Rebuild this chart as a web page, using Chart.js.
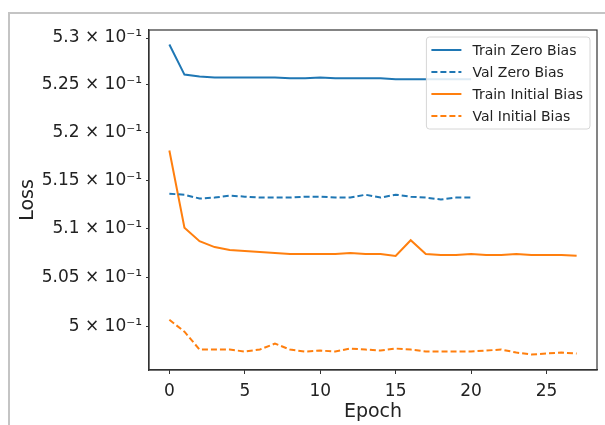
<!DOCTYPE html>
<html>
<head>
<meta charset="utf-8">
<script src="https://cdn.jsdelivr.net/npm/chart.js@4"></script>
<style>
  html, body { margin: 0; padding: 0; background: #fff; overflow: hidden; }
  #wrap { position: relative; width: 605px; height: 425px; }
  #frame { position: absolute; left: 8px; top: 12px; width: 620px; height: 440px;
           border-left: 2px solid #c4c4c4; border-top: 2px solid #c4c4c4; }
  canvas { position: absolute; left: 0; top: 0; }
</style>
</head>
<body>
<div id="wrap">
  <div id="frame"></div>
  <canvas id="lossChart" width="605" height="425"></canvas>
</div>
<script>
// values (loss per epoch)
const trainZeroBias = [0.5293, 0.5261, 0.5259, 0.5258, 0.5258, 0.5258, 0.5258, 0.5258, 0.5257, 0.5257,
  0.5258, 0.5257, 0.5257, 0.5257, 0.5257, 0.5256, 0.5256, 0.5256, 0.5256, 0.5256, 0.5256];
const valZeroBias = [0.5136, 0.5135, 0.5131, 0.5132, 0.5134, 0.5133, 0.5132, 0.5132, 0.5132, 0.5133,
  0.5133, 0.5132, 0.5132, 0.5135, 0.5132, 0.5135, 0.5133, 0.5132, 0.5130, 0.5132, 0.5132];
const trainInitialBias = [0.5181, 0.5101, 0.5087, 0.5081, 0.5078, 0.5077, 0.5076, 0.5075, 0.5074, 0.5074,
  0.5074, 0.5074, 0.5075, 0.5074, 0.5074, 0.5072, 0.5088, 0.5074, 0.5073, 0.5073,
  0.5074, 0.5073, 0.5073, 0.5074, 0.5073, 0.5073, 0.5073, 0.5072];
const valInitialBias = [0.5007, 0.4995, 0.4977, 0.4977, 0.4977, 0.4975, 0.4977, 0.4983, 0.4977, 0.4975,
  0.4976, 0.4975, 0.4978, 0.4977, 0.4976, 0.4978, 0.4977, 0.4975, 0.4975, 0.4975,
  0.4975, 0.4976, 0.4977, 0.4974, 0.4972, 0.4973, 0.4974, 0.4973];

const xTicks = [0, 5, 10, 15, 20, 25];
const yTicks = [0.5, 0.505, 0.51, 0.515, 0.52, 0.525, 0.53];
const yTickLabels = ['5 × 10⁻¹', '5.05 × 10⁻¹', '5.1 × 10⁻¹', '5.15 × 10⁻¹', '5.2 × 10⁻¹', '5.25 × 10⁻¹', '5.3 × 10⁻¹'];

const BLUE = '#1f77b4';
const ORANGE = '#ff7f0e';
const AXIS = '#333';
const FONT = "'DejaVu Sans', sans-serif";

const toPoints = arr => arr.map((v, i) => ({ x: i, y: v }));

// top + right spines
const boxPlugin = {
    id: 'box',
    afterDatasetsDraw(chart) {
        const { ctx, chartArea: a } = chart;
        ctx.save();
        ctx.strokeStyle = AXIS;
        ctx.lineWidth = 1.2;
        ctx.strokeRect(a.left, a.top, a.right - a.left, a.bottom - a.top);
        ctx.restore();
    }
};

// matplotlib style legend in the upper right corner
const legendPlugin = {
    id: 'mplLegend',
    afterDraw(chart) {
        const { ctx, chartArea: a } = chart;
        const sets = chart.data.datasets;
        ctx.save();
        ctx.font = '14px ' + FONT;
        let maxW = 0;
        sets.forEach(ds => { maxW = Math.max(maxW, ctx.measureText(ds.label).width); });
        const rowH = 22;
        const w = 46 + maxW + 7;
        const h = rowH * sets.length + 4;
        const x = a.right - 7 - w;
        const y = a.top + 7;
        ctx.fillStyle = 'rgba(255,255,255,0.85)';
        ctx.strokeStyle = '#d6d6d6';
        ctx.lineWidth = 1;
        ctx.beginPath();
        ctx.roundRect(x, y, w, h, 3);
        ctx.fill();
        ctx.stroke();
        sets.forEach((ds, i) => {
            const cy = y + 13 + i * rowH;
            ctx.strokeStyle = ds.borderColor;
            ctx.lineWidth = ds.borderWidth;
            ctx.setLineDash(ds.borderDash || []);
            ctx.beginPath();
            ctx.moveTo(x + 5, cy);
            ctx.lineTo(x + 35, cy);
            ctx.stroke();
            ctx.setLineDash([]);
            ctx.fillStyle = '#222';
            ctx.textBaseline = 'middle';
            ctx.fillText(ds.label, x + 46, cy + 1);
        });
        ctx.restore();
    }
};

const lineStyle = (color, dashed) => ({
    borderColor: color,
    backgroundColor: color,
    borderWidth: 2,
    borderDash: dashed ? [6, 3] : [],
    pointRadius: 0,
    tension: 0,
    fill: false
});

new Chart(document.getElementById('lossChart').getContext('2d'), {
    type: 'line',
    data: {
        datasets: [
            { label: 'Train Zero Bias', data: toPoints(trainZeroBias), ...lineStyle(BLUE, false) },
            { label: 'Val Zero Bias', data: toPoints(valZeroBias), ...lineStyle(BLUE, true) },
            { label: 'Train Initial Bias', data: toPoints(trainInitialBias), ...lineStyle(ORANGE, false) },
            { label: 'Val Initial Bias', data: toPoints(valInitialBias), ...lineStyle(ORANGE, true) }
        ]
    },
    options: {
        responsive: false,
        animation: false,
        layout: { padding: { left: 0, top: 30, right: 8, bottom: 0 } },
        plugins: {
            legend: { display: false },
            tooltip: { enabled: false }
        },
        scales: {
            x: {
                type: 'linear',
                min: -1.35,
                max: 28.35,
                afterBuildTicks: s => { s.ticks = xTicks.map(v => ({ value: v })); },
                afterFit: s => { s.height = 55; },
                ticks: { color: '#222', font: { family: FONT, size: 17 }, padding: 7, maxRotation: 0 },
                grid: { drawOnChartArea: false, drawTicks: true, tickLength: 4, color: AXIS },
                border: { display: true, color: AXIS, width: 1.2 },
                title: { display: true, text: 'Epoch', color: '#222', font: { family: FONT, size: 19 }, padding: { top: 0, bottom: 2 } }
            },
            y: {
                type: 'logarithmic',
                min: 0.49565,
                max: 0.530857,
                afterBuildTicks: s => { s.ticks = yTicks.map(v => ({ value: v })); },
                afterFit: s => { s.width = 149; },
                ticks: {
                    color: '#222',
                    font: { family: FONT, size: 17 },
                    padding: 4,
                    callback: v => yTickLabels[yTicks.indexOf(v)]
                },
                grid: { drawOnChartArea: false, drawTicks: true, tickLength: 3, color: AXIS },
                border: { display: true, color: AXIS, width: 1.2 },
                title: { display: true, text: 'Loss', color: '#222', font: { family: FONT, size: 19 }, padding: { top: 17, bottom: 0 } }
            }
        }
    },
    plugins: [boxPlugin, legendPlugin]
});
</script>
</body>
</html>
